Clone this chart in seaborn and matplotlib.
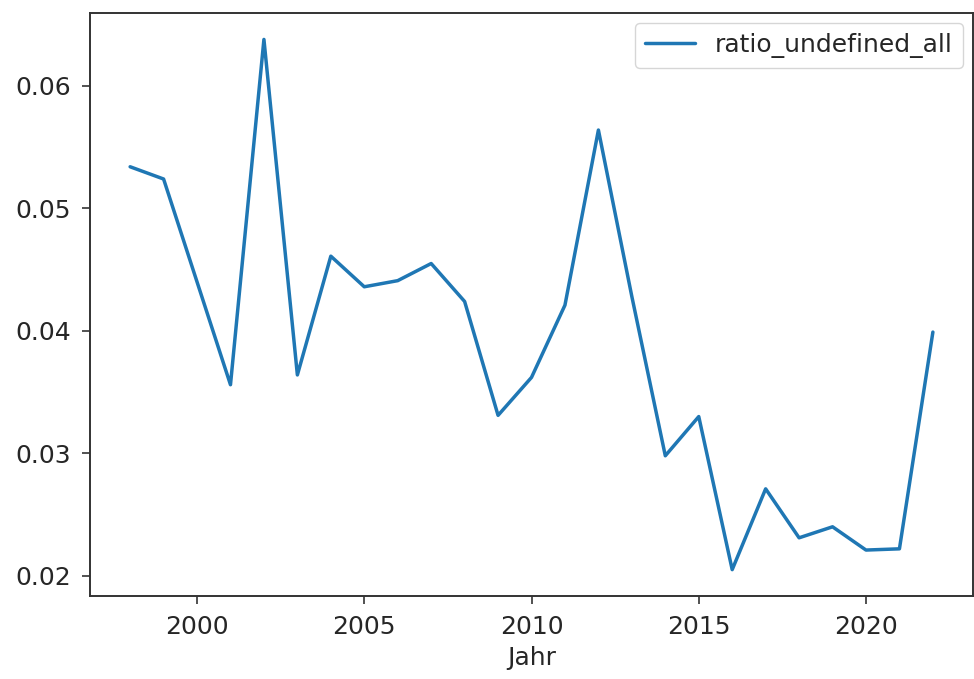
import matplotlib
matplotlib.use("Agg")
import matplotlib.pyplot as plt
import seaborn as sns
import pandas as pd

years = list(range(1998, 2023))
ratio_undefined_all = [
    0.0534, 0.0524, 0.0440, 0.0356, 0.0638, 0.0364, 0.0461, 0.0436, 0.0441,
    0.0455, 0.0424, 0.0331, 0.0362, 0.0421, 0.0564, 0.0428, 0.0298, 0.0330,
    0.0205, 0.0271, 0.0231, 0.0240, 0.0221, 0.0222, 0.0399,
]

df = pd.DataFrame({"Jahr": years, "ratio_undefined_all": ratio_undefined_all})

sns.set_style("ticks")
plt.rcParams["font.family"] = ["DejaVu Sans"]

fig = plt.figure(figsize=(9.74, 6.79), dpi=100)
ax = fig.add_axes([0.0924, 0.122, 0.9066, 0.859])

sns.lineplot(data=df, x="Jahr", y="ratio_undefined_all", ax=ax,
             color="#1f77b4", linewidth=2.5, label="ratio_undefined_all")

ax.set_xticks([2000, 2005, 2010, 2015, 2020])
ax.set_yticks([0.02, 0.03, 0.04, 0.05, 0.06])
ax.set_yticklabels(["0.02", "0.03", "0.04", "0.05", "0.06"])
ax.set_ylabel("")
ax.set_xlabel("Jahr", fontsize=18, labelpad=5)
ax.tick_params(labelsize=18, length=5.5, width=1.2, color="#333333", pad=8)
for s in ax.spines.values():
    s.set_visible(True)
    s.set_linewidth(1.4)
    s.set_color("#333333")

leg = ax.legend(loc="upper right", fontsize=18, frameon=True, handlelength=2.0,
                borderpad=0.4, borderaxespad=0.4)
leg.get_frame().set_edgecolor("#cccccc")

fig.savefig("out.png", dpi=100)
